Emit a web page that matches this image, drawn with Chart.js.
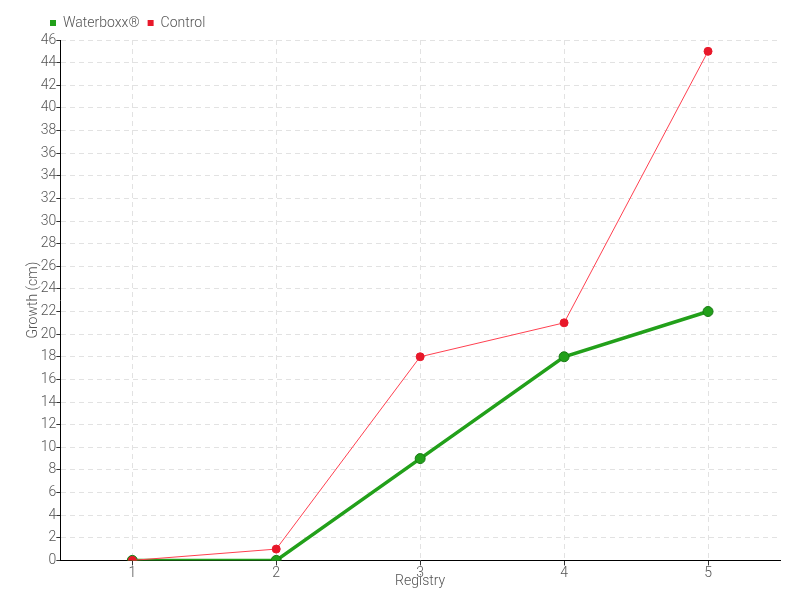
<!DOCTYPE html>
<html>
<head>
<meta charset="utf-8">
<script src="https://cdn.jsdelivr.net/npm/chart.js@4/dist/chart.umd.min.js"></script>
<style>
  html, body { margin: 0; padding: 0; background: #fff; }
  #wrap { width: 800px; height: 600px; }
</style>
</head>
<body>
<div id="wrap"><canvas id="growthChart" width="800" height="600"></canvas></div>
<script>
const registry = ['1', '2', '3', '4', '5'];
const waterboxx = [0, 0, 9, 18, 22];
const control = [0, 1, 18, 21, 45];

const FONT = "Roboto, 'DejaVu Sans', sans-serif";
const TEXT = '#555';

Chart.defaults.font.family = FONT;
Chart.defaults.font.size = 14;
Chart.defaults.font.weight = 300;
Chart.defaults.color = TEXT;

// legend sits a little right of the y-axis title, like in the original
const shiftLegend = {
    id: 'shiftLegend',
    afterLayout(chart) {
        if (chart.legend) chart.legend.left = 42;
    }
};

new Chart(document.getElementById('growthChart'), {
    type: 'line',
    data: {
        labels: registry,
        datasets: [
            {
                label: 'Waterboxx®',
                data: waterboxx,
                order: 1,
                borderColor: '#22a01a',
                backgroundColor: '#22a01a',
                borderWidth: 3.5,
                pointRadius: 5,
                pointBackgroundColor: '#22a01a',
                pointBorderColor: '#187a14',
                pointBorderWidth: 1,
                tension: 0
            },
            {
                label: 'Control',
                data: control,
                order: 0,
                borderColor: '#ff4050',
                backgroundColor: '#e8182a',
                borderWidth: 1,
                pointRadius: 4,
                pointBackgroundColor: '#e8182a',
                pointBorderColor: '#e8182a',
                pointBorderWidth: 1,
                tension: 0
            }
        ]
    },
    options: {
        responsive: false,
        animation: false,
        layout: { padding: { left: 25, right: 20, top: 8, bottom: 10 } },
        plugins: {
            legend: {
                align: 'start',
                labels: {
                    boxWidth: 6,
                    boxHeight: 6,
                    padding: 8,
                    font: { size: 14, weight: 300 },
                    generateLabels: chart => chart.data.datasets.map((ds, i) => ({
                        text: ds.label,
                        fillStyle: ds.backgroundColor,
                        strokeStyle: ds.backgroundColor,
                        lineWidth: 0,
                        datasetIndex: i,
                        fontColor: TEXT
                    }))
                }
            },
            tooltip: { enabled: false }
        },
        scales: {
            x: {
                offset: true,
                grid: {
                    offset: false,
                    color: '#e2e2e2',
                    tickColor: '#333',
                    tickLength: 5
                },
                border: { color: '#000', dash: [5, 4] },
                ticks: { padding: 0 },
                title: { display: true, text: 'Registry', padding: { top: -9, bottom: 0 } }
            },
            y: {
                min: 0,
                max: 46,
                grid: {
                    color: '#e2e2e2',
                    tickColor: '#333',
                    tickLength: 4
                },
                border: { color: '#000', dash: [5, 4] },
                ticks: { stepSize: 2, padding: 0 },
                title: { display: true, text: 'Growth (cm)', padding: { top: 0, bottom: -1 } }
            }
        }
    },
    plugins: [shiftLegend]
});
</script>
</body>
</html>
